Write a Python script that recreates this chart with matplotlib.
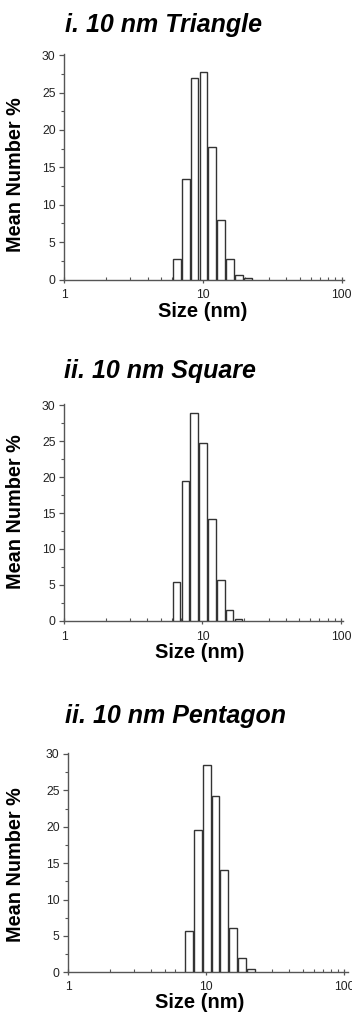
import matplotlib
matplotlib.use("Agg")
import matplotlib.pyplot as plt
from matplotlib.ticker import FixedLocator, NullFormatter, LogLocator

plt.rcParams['font.family'] = ['Liberation Sans', 'DejaVu Sans']

# ---- data ----
titles = ["i. 10 nm Triangle", "ii. 10 nm Square", "ii. 10 nm Pentagon"]

tri_sizes = [6.503, 7.531, 8.721, 10.10, 11.70, 13.54, 15.69, 18.17, 21.04]
tri_vals = [2.7, 13.5, 27.0, 27.8, 17.7, 8.0, 2.8, 0.6, 0.15]

sq_sizes = [6.503, 7.531, 8.721, 10.10, 11.70, 13.54, 15.69, 18.17]
sq_vals = [5.45, 19.4, 28.9, 24.7, 14.2, 5.7, 1.5, 0.2]

pent_sizes = [7.531, 8.721, 10.10, 11.70, 13.54, 15.69, 18.17, 21.04]
pent_vals = [5.7, 19.5, 28.5, 24.2, 14.1, 6.1, 2.0, 0.5]

y_ticks = [0, 5, 10, 15, 20, 25, 30]
x_ticks = [1, 10, 100]
x_ticklabels = ["1", "10", "100"]

W, H = 352, 1014
fig = plt.figure(figsize=(W / 100, H / 100), dpi=100)

# layout per panel (pixels): left, right, top, bottom, xmax,
# title x, title baseline, ylabel (x, y axes coords), xlabel (x axes, baseline px below), x tick pad
layouts = [
    dict(l=64, r=344, t=54.0, b=279.5, xmax=104, tx=65, ty=32.3,
         yl=(-0.139, 0.466), xl=(0.496, 37.5), xpad=4.5),
    dict(l=64, r=343.3, t=404.2, b=620.8, xmax=104, tx=64, ty=377.7,
         yl=(-0.139, 0.504), xl=(0.487, 37.5), xpad=5.0),
    dict(l=68, r=348.3, t=752.8, b=972.4, xmax=107, tx=65, ty=723.3,
         yl=(-0.153, 0.49), xl=(0.471, 35.5), xpad=3.5),
]
datasets = [(tri_sizes, tri_vals), (sq_sizes, sq_vals), (pent_sizes, pent_vals)]

half_w = 0.0277  # half bar width in decades
spine_col = '#555555'

for L, (sizes, vals), title in zip(layouts, datasets, titles):
    l, r, t, b = L['l'], L['r'], L['t'], L['b']
    ax = fig.add_axes([l / W, 1 - b / H, (r - l) / W, (b - t) / H])
    lefts = [s * 10 ** (-half_w) for s in sizes]
    widths = [s * 10 ** half_w - s * 10 ** (-half_w) for s in sizes]
    ax.bar(lefts, vals, width=widths, align='edge', facecolor='white',
           edgecolor='#333333', linewidth=1.0, zorder=3)
    ax.set_xscale('log')
    ax.set_xlim(1, L['xmax'])
    ax.set_ylim(0, 30.15)
    for s in ['top', 'right']:
        ax.spines[s].set_visible(False)
    for s in ['left', 'bottom']:
        ax.spines[s].set_color(spine_col)
        ax.spines[s].set_linewidth(1.0)
    ax.yaxis.set_major_locator(FixedLocator(y_ticks))
    ax.yaxis.set_minor_locator(FixedLocator([2.5, 7.5, 12.5, 17.5, 22.5, 27.5]))
    ax.xaxis.set_major_locator(FixedLocator(x_ticks))
    ax.set_xticklabels(x_ticklabels)
    ax.xaxis.set_minor_locator(LogLocator(base=10, subs=range(2, 10)))
    ax.xaxis.set_minor_formatter(NullFormatter())
    ax.tick_params(axis='y', which='major', direction='out', length=3.5, width=0.9,
                   color=spine_col, labelsize=8.7, labelcolor='#222222', pad=2.5)
    ax.tick_params(axis='y', which='minor', direction='out', length=2, width=0.8,
                   color=spine_col)
    ax.tick_params(axis='x', which='major', direction='inout', length=5, width=0.9,
                   color=spine_col, labelsize=8.7, labelcolor='#222222', pad=L['xpad'])
    ax.tick_params(axis='x', which='minor', direction='in', length=2.5, width=0.8,
                   color=spine_col)
    ax.set_ylabel("Mean Number %", fontsize=14.3, fontweight='bold')
    ax.yaxis.set_label_coords(*L['yl'])
    ax.set_xlabel("Size (nm)", fontsize=14.5, fontweight='bold')
    ax.xaxis.label.set_va('baseline')
    ax.xaxis.set_label_coords(L['xl'][0], -L['xl'][1] / (b - t))
    fig.text(L['tx'] / W, 1 - L['ty'] / H, title, fontsize=18, fontweight='bold',
             fontstyle='italic', ha='left', va='baseline')

fig.savefig("out.png", dpi=100)
